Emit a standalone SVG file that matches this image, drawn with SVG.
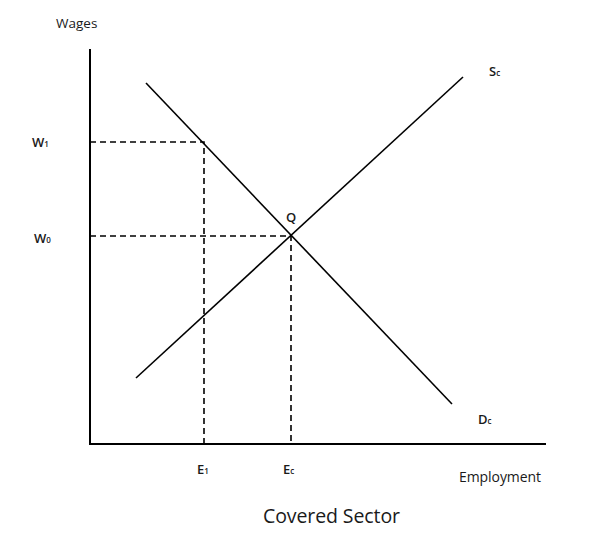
<svg xmlns="http://www.w3.org/2000/svg" width="590" height="538" viewBox="0 0 590 538">
<style>
.axis{stroke:#000;stroke-width:2;fill:none}
.curve{stroke:#000;stroke-width:1.6;fill:none}
.dash{stroke:#000;stroke-width:1.6;fill:none;stroke-dasharray:6,4}
text{font-family:"Open Sans","Liberation Sans",sans-serif;fill:#1a1a1a}
.lbl{font-size:13px;font-weight:600}
.sub{font-size:8px}
</style>
<rect width="590" height="538" fill="#fff"/>
<g id="axes">
<path class="axis" d="M90,49 V444 H546"/>
<text x="56" y="28" style="font-size:13.5px">Wages</text>
<text x="459" y="482" style="font-size:14px" textLength="82">Employment</text>
</g>
<g id="connectors">
<path class="dash" d="M90,142 H204 V444"/>
<path class="dash" d="M90,236 H291 V444"/>
</g>
<g id="demand">
<path class="curve" d="M146,83 L452,404"/>
<text class="lbl" x="478" y="424">D<tspan class="sub">c</tspan></text>
</g>
<g id="supply">
<path class="curve" d="M136,378 L463,77"/>
<text class="lbl" x="489" y="76">S<tspan class="sub">c</tspan></text>
</g>
<g id="Q">
<text class="lbl" x="286" y="222">Q</text>
</g>
<g id="W1"><text class="lbl" x="32" y="147">W<tspan class="sub">1</tspan></text></g>
<g id="W0"><text class="lbl" x="34" y="243">W<tspan class="sub">0</tspan></text></g>
<g id="E1"><text class="lbl" x="197" y="474">E<tspan class="sub">1</tspan></text></g>
<g id="Ec"><text class="lbl" x="283" y="474">E<tspan class="sub">c</tspan></text></g>
<g id="title"><text x="263" y="523" style="font-size:19.5px" textLength="137">Covered Sector</text></g>
</svg>
